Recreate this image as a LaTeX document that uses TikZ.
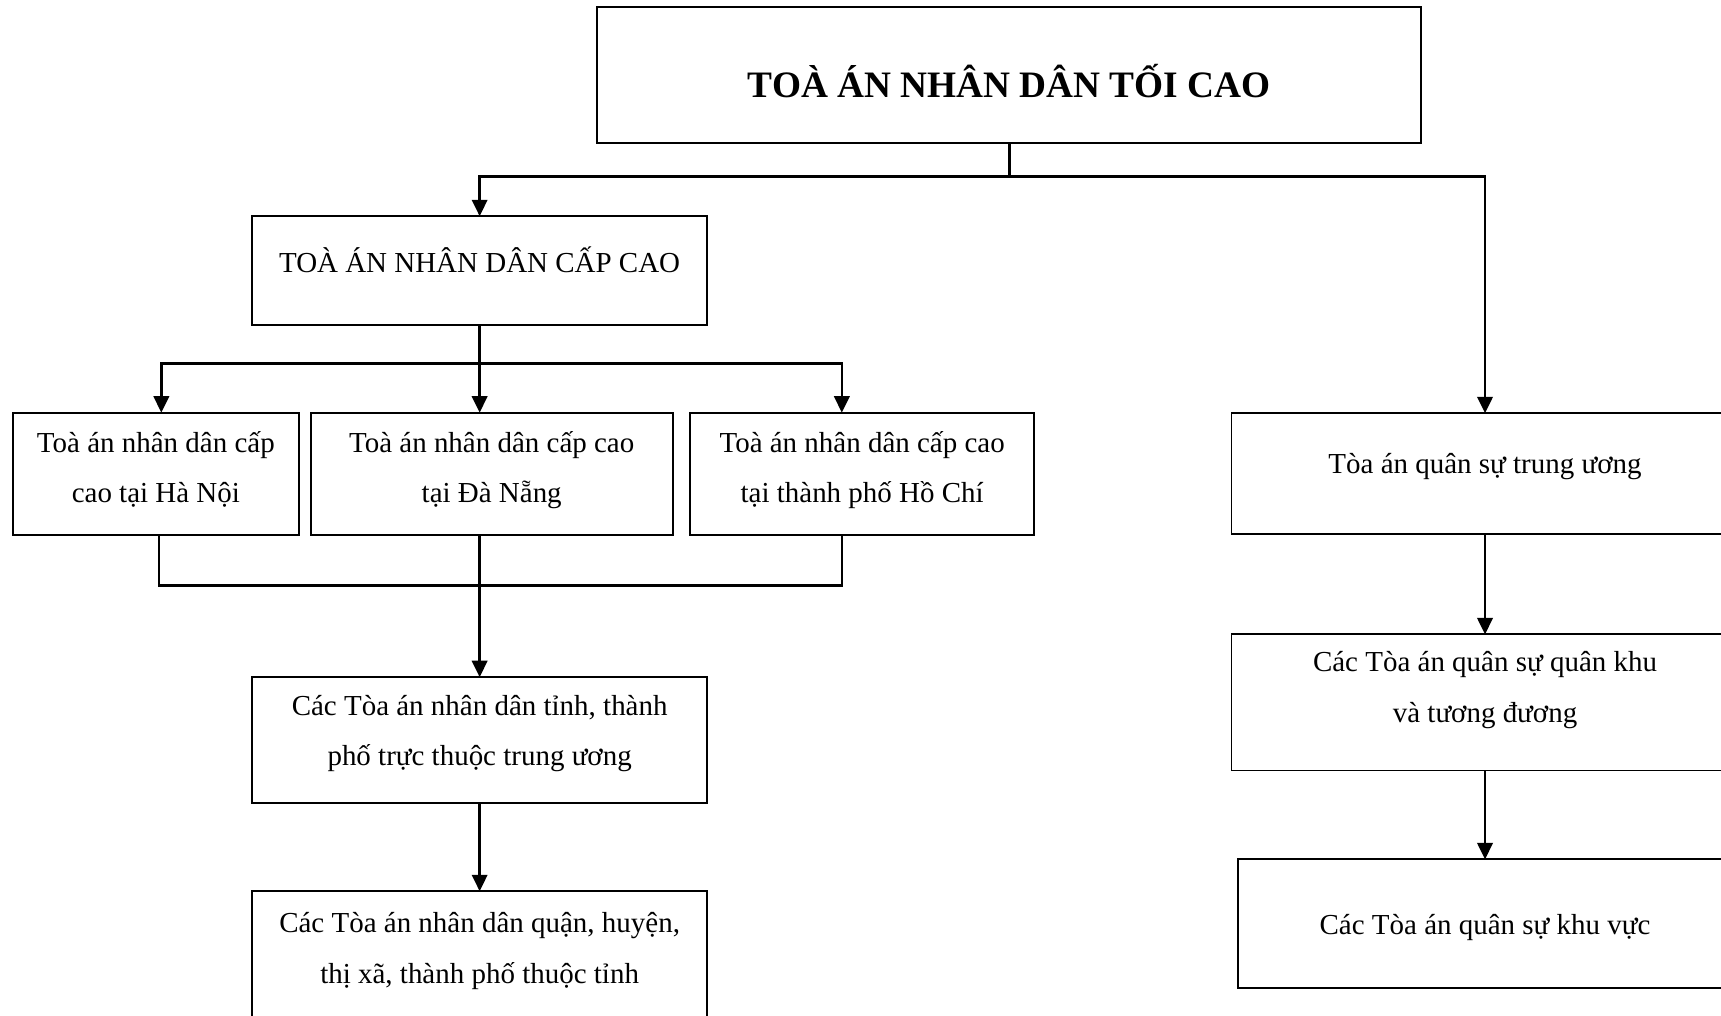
\documentclass[tikz,border=0pt]{standalone}
\usepackage{fontspec}
\setmainfont{Liberation Serif}
\usetikzlibrary{arrows.meta}
\newcommand\bt[2]{\raisebox{#1}[0pt][0pt]{\begin{tabular}{@{}c@{}}#2\end{tabular}}}
\begin{document}
\begin{tikzpicture}[x=0.5pt,y=-0.5pt,
  box/.style={draw, line width=0.9pt, inner sep=0pt, outer sep=0pt, font=\fontsize{13.2}{23}\selectfont},
  conn/.style={line width=1.2pt},
  arr/.style={conn, -{Triangle[width=7pt,length=7.5pt]}}]
\useasboundingbox (0,0) rectangle (1568,925);
\clip (0,0) rectangle (1568,925);
\fill[white] (0,0) rectangle (1568,925);

\node[box, minimum width=375.5pt, minimum height=62pt, font=\fontsize{17}{20}\selectfont\bfseries] (top) at (919.5,68) {\bt{-10pt}{TOÀ ÁN NHÂN DÂN TỐI CAO}};
\node[box, minimum width=207pt, minimum height=49.5pt] (cc) at (437,246.5) {\bt{0.75pt}{TOÀ ÁN NHÂN DÂN CẤP CAO}};
\node[box, minimum width=130pt, minimum height=55.5pt] (hn) at (142,431.5) {\bt{-0.25pt}{Toà án nhân dân cấp\\cao tại Hà Nội}};
\node[box, minimum width=165pt, minimum height=55.5pt] (dn) at (448,431.5) {\bt{-0.25pt}{Toà án nhân dân cấp cao\\tại Đà Nẵng}};
\node[box, minimum width=156.5pt, minimum height=55.5pt] (hcm) at (785.5,431.5) {\bt{-0.25pt}{Toà án nhân dân cấp cao\\tại thành phố Hồ Chí}};
\node[box, minimum width=207pt, minimum height=57.5pt] (tinh) at (437,674.5) {\bt{1.5pt}{Các Tòa án nhân dân tỉnh, thành\\phố trực thuộc trung ương}};
\node[box, minimum width=207pt, minimum height=64pt] (qh) at (437,876) {\bt{3.25pt}{Các Tòa án nhân dân quận, huyện,\\thị xã, thành phố thuộc tỉnh}};
\node[box, minimum width=231pt, minimum height=55pt] (r1) at (1353,431.5) {\bt{1.5pt}{Tòa án quân sự trung ương}};
\node[box, minimum width=231pt, minimum height=62pt] (r2) at (1353,640) {\bt{4pt}{Các Tòa án quân sự quân khu\\và tương đương}};
\node[box, minimum width=225pt, minimum height=58.5pt] (r3) at (1353,841.5) {\bt{-3.25pt}{Các Tòa án quân sự khu vực}};

\path (top.south) ++(0,31) coordinate (j1);
\draw[conn] (top.south) -- (j1);
\draw[arr] (j1) -| (cc.north);
\draw[arr] (j1) -| (r1.north);

\path (cc.south) ++(0,35) coordinate (j2);
\draw[conn] (cc.south) -- (j2);
\draw[arr] (j2) -| ([xshift=2.5pt]hn.north);
\draw[arr] (j2) -- (j2 |- dn.north);
\draw[arr] (j2) -| ([xshift=-9.25pt]hcm.north);

\path (cc.south |- dn.south) ++(0,46.5) coordinate (j3);
\draw[conn] ([xshift=1.5pt]hn.south) |- (j3);
\draw[conn] ([xshift=-9.25pt]hcm.south) |- (j3);
\draw[arr] (j3 |- dn.south) -- (tinh.north);
\draw[arr] (tinh.south) -- (qh.north);

\draw[arr] (r1.south) -- (r2.north);
\draw[arr] (r2.south) -- (r3.north);
\end{tikzpicture}
\end{document}
